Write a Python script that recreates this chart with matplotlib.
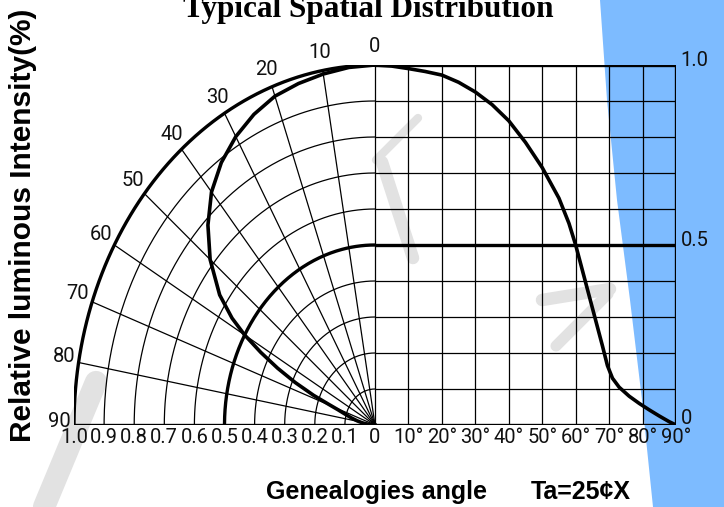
import matplotlib
matplotlib.use("Agg")
import matplotlib.pyplot as plt
import numpy as np

# radiation pattern (angle in degrees, relative intensity)
angle = [0, 5, 10, 15, 20, 25, 30, 35, 40, 45, 50, 55, 58, 60, 62, 64, 66, 68,
         69.5, 71, 73, 76, 79, 82, 85, 88, 90]
intensity = [1.0, 0.997, 0.99, 0.982, 0.972, 0.952, 0.925, 0.89, 0.845, 0.785,
             0.715, 0.63, 0.56, 0.5, 0.43, 0.36, 0.29, 0.22, 0.165, 0.13, 0.105,
             0.08, 0.06, 0.042, 0.025, 0.009, 0.0]

radius_ticks = ["1.0", "0.9", "0.8", "0.7", "0.6", "0.5", "0.4", "0.3", "0.2", "0.1", "0"]
angle_ticks = ["10°", "20°", "30°", "40°", "50°", "60°", "70°", "80°", "90°"]
polar_labels = ["0", "10", "20", "30", "40", "50", "60", "70", "80", "90"]
right_ticks = {"1.0": 1.0, "0.5": 0.5, "0": 0.0}

thin_font = dict(fontsize=14.5, family="Roboto", color="#111111")

fig = plt.figure(figsize=(7.24, 5.07), dpi=100)

# background decoration: blue band on the right and faint watermark strokes
bg = fig.add_axes([0, 0, 1, 1], zorder=0)
bg.set_xlim(0, 724)
bg.set_ylim(507, 0)
bg.axis("off")
bg.fill([600, 607, 617, 630, 642, 653, 724, 724],
        [0, 100, 200, 300, 400, 507, 507, 0], color="#7DBBFF", lw=0)
wm = dict(color="#E2E2E2", solid_capstyle="round")
bg.plot([44, 96], [507, 382], lw=16, **wm)
bg.plot([542, 610], [300, 289], lw=9, **wm)
bg.plot([608, 556], [294, 346], lw=8, **wm)
bg.plot([418, 376], [118, 160], lw=6, **wm)
bg.plot([382, 413], [162, 258], lw=9, **wm)

ax = fig.add_axes([74 / 724, 82 / 507, 602 / 724, 360 / 507], zorder=1)
ax.patch.set_alpha(0)
ax.set_xlim(-1, 1)
ax.set_ylim(0, 1)
ax.axis("off")

thin = dict(color="black", lw=0.9, solid_capstyle="butt")
thick = dict(color="black", lw=2.4, solid_capstyle="butt")

t = np.radians(np.linspace(0, 90, 200))
# polar rings + their horizontal continuation on the right
for i in range(1, 11):
    r = i / 10
    style = thick if i in (5, 10) else thin
    ax.plot(-r * np.sin(t), r * np.cos(t), **style)
    ax.plot([0, 1], [r, r], **style)

# spokes every 10 deg and right-hand vertical grid
for a in range(0, 90, 10):
    th = np.radians(a)
    ax.plot([0, -np.sin(th)], [0, np.cos(th)], **thin)
for a in range(10, 90, 10):
    ax.plot([a / 90, a / 90], [0, 1], **thin)
ax.plot([1, 1], [0, 1], **thick)
ax.plot([-1, 1], [0, 0], **thick)

# intensity curve: polar (left) and cartesian (right)
ang = np.radians(angle)
inten = np.array(intensity)
ax.plot(-inten * np.sin(ang), inten * np.cos(ang), color="black", lw=2.6,
        solid_joinstyle="round")
ax.plot(np.array(angle) / 90, inten, color="black", lw=2.6, solid_joinstyle="round")

# tick labels
for i, lab in enumerate(radius_ticks):
    ax.text(-1 + i / 10, -0.035, lab, ha="center", va="center", **thin_font)
for i, lab in enumerate(angle_ticks):
    ax.text((i + 1) / 9, -0.035, lab, ha="center", va="center", **thin_font)
for lab, v in right_ticks.items():
    ax.text(1.015, v + (0.012 if v else 0.018), lab, ha="left", va="center", **thin_font)
for i, lab in enumerate(polar_labels):
    th = np.radians(i * 10)
    ax.text(-1.05 * np.sin(th), 1.04 * np.cos(th) + 0.01, lab,
            ha="center", va="center", **thin_font)

fig.text(368 / 724, 1 - 17 / 507, "Typical Spatial Distribution", ha="center",
         va="baseline", fontsize=22.5, fontweight="bold", family="Liberation Serif")
fig.text(23 / 724, 1 - 225 / 507, "Relative luminous Intensity(%)", rotation=90,
         ha="center", va="center", fontsize=21.5, fontweight="bold", family="Liberation Sans")
fig.text(376 / 724, 1 - 492 / 507, "Genealogies angle", ha="center", va="center",
         fontsize=18, fontweight="bold", family="Liberation Sans")
fig.text(581 / 724, 1 - 492 / 507, "Ta=25¢X", ha="center", va="center",
         fontsize=18, fontweight="bold", family="Liberation Sans")

fig.savefig("out.png", dpi=100)
